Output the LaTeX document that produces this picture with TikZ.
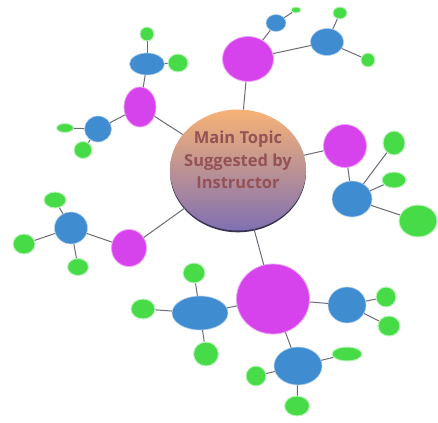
\documentclass[tikz,border=0pt]{standalone}
\usepackage{fontspec}
\usepackage{tikz}
\usetikzlibrary{shapes.geometric}
\newfontfamily\topicfont{Open Sans}
\definecolor{gris}{rgb}{0.42,0.42,0.47}
\definecolor{cmag}{rgb}{0.84, 0.26, 0.92}
\definecolor{cblue}{rgb}{0.25, 0.55, 0.82}
\definecolor{cgreen}{rgb}{0.28, 0.86, 0.28}
\definecolor{ctop}{rgb}{0.97, 0.70, 0.46}
\definecolor{cbot}{rgb}{0.50, 0.44, 0.70}
\definecolor{ctext}{rgb}{0.58, 0.32, 0.34}
\tikzset{sz/.style 2 args={minimum width=#1pt, minimum height=#2pt}}

\begin{document}
\begin{tikzpicture}[x=1pt, y=-1pt, thin]
  \tikzstyle{blob}=[ellipse, inner sep=0pt]
  \tikzstyle{sub}=[blob, fill=cmag, draw=cmag!50, line width=0.8pt]
  \tikzstyle{mid}=[blob, fill=cblue, draw=cblue!40, line width=0.6pt]
  \tikzstyle{leaf}=[blob, fill=cgreen, draw=cgreen!35, line width=1pt]
  \tikzstyle{link}=[draw=gris, line width=1pt]

  \useasboundingbox (0,0) rectangle (438,422);

	% main topic
	\fill[cbot!45!black] (238,171.8) ellipse [x radius=68pt, y radius=60.5pt];
	\node[blob, sz={136}{121}, top color=ctop, bottom color=cbot] (T) at (238,170) {};
	\node[font=\topicfont\bfseries\fontsize{16.5}{22.5}\selectfont, text=ctext, align=center] (Ttext) at (238,160) {Main Topic\\Suggested by\\Instructor};

	% top left
	\node[sub, sz={32}{40}]  (M1) at (140,107) {};
	\node[mid, sz={35}{22}]  (B1) at (147,64) {};
	\node[leaf, sz={14}{14}] (L1a) at (147,34) {};
	\node[leaf, sz={20}{18}] (L1b) at (178,63) {};
	\node[mid, sz={27}{26}]  (B2) at (98,129) {};
	\node[leaf, sz={17}{9}]  (L2a) at (65,128) {};
	\node[leaf, sz={18}{17}] (L2b) at (83,150) {};
	% top right
	\node[sub, sz={51}{45}]  (M2) at (248,59) {};
	\node[mid, sz={20}{17}]  (B3) at (276,23) {};
	\node[leaf, sz={10}{6}]  (L3a) at (296,10) {};
	\node[mid, sz={33}{27}]  (B4) at (327,42) {};
	\node[leaf, sz={14}{12}] (L4a) at (340,13) {};
	\node[leaf, sz={14}{14}] (L4b) at (368,60) {};
	% right
	\node[sub, sz={43}{43}]  (M3) at (345,146) {};
	\node[mid, sz={40}{36}]  (B5) at (352,199) {};
	\node[leaf, sz={22}{24}] (L5a) at (394,143) {};
	\node[leaf, sz={24}{16}] (L5b) at (394,180) {};
	\node[leaf, sz={38}{32}] (L5c) at (418,221) {};
	% left
	\node[sub, sz={35}{37}]  (M4) at (129,248) {};
	\node[mid, sz={33}{32}]  (B6) at (71,228) {};
	\node[leaf, sz={22}{16}] (L6a) at (55,200) {};
	\node[leaf, sz={22}{20}] (L6b) at (24,244) {};
	\node[leaf, sz={21}{17}] (L6c) at (78,267) {};
	% bottom
	\node[sub, sz={73}{70}]  (M5) at (273,299) {};
	\node[mid, sz={56}{34}]  (B7) at (200,313) {};
	\node[leaf, sz={22}{20}] (L7a) at (194,273) {};
	\node[leaf, sz={24}{20}] (L7b) at (143,309) {};
	\node[leaf, sz={25}{24}] (L7c) at (206,354) {};
	\node[mid, sz={38}{36}]  (B8) at (347,305) {};
	\node[leaf, sz={20}{20}] (L8a) at (386,297) {};
	\node[leaf, sz={22}{20}] (L8b) at (389,326) {};
	\node[mid, sz={48}{38}]  (B9) at (298,366) {};
	\node[leaf, sz={30}{14}] (L9a) at (347,354) {};
	\node[leaf, sz={20}{20}] (L9b) at (256,376) {};
	\node[leaf, sz={25}{20}] (L9c) at (297,406) {};

	\path[link]
		(T) edge (M1) (T) edge (M2) (T) edge (M3) (T) edge (M4) (T) edge (M5)
		(M1) edge (B1) (B1) edge (L1a) (B1) edge (L1b)
		(M1) edge (B2) (B2) edge (L2a) (B2) edge (L2b)
		(M2) edge (B3) (B3) edge (L3a)
		(M2) edge (B4) (B4) edge (L4a) (B4) edge (L4b)
		(M3) edge (B5) (B5) edge (L5a) (B5) edge (L5b) (B5) edge (L5c)
		(M4) edge (B6) (B6) edge (L6a) (B6) edge (L6b) (B6) edge (L6c)
		(M5) edge (B7) (B7) edge (L7a) (B7) edge (L7b) (B7) edge (L7c)
		(M5) edge (B8) (B8) edge (L8a) (B8) edge (L8b)
		(M5) edge (B9) (B9) edge (L9a) (B9) edge (L9b) (B9) edge (L9c)
		;

\end{tikzpicture}
\end{document}
